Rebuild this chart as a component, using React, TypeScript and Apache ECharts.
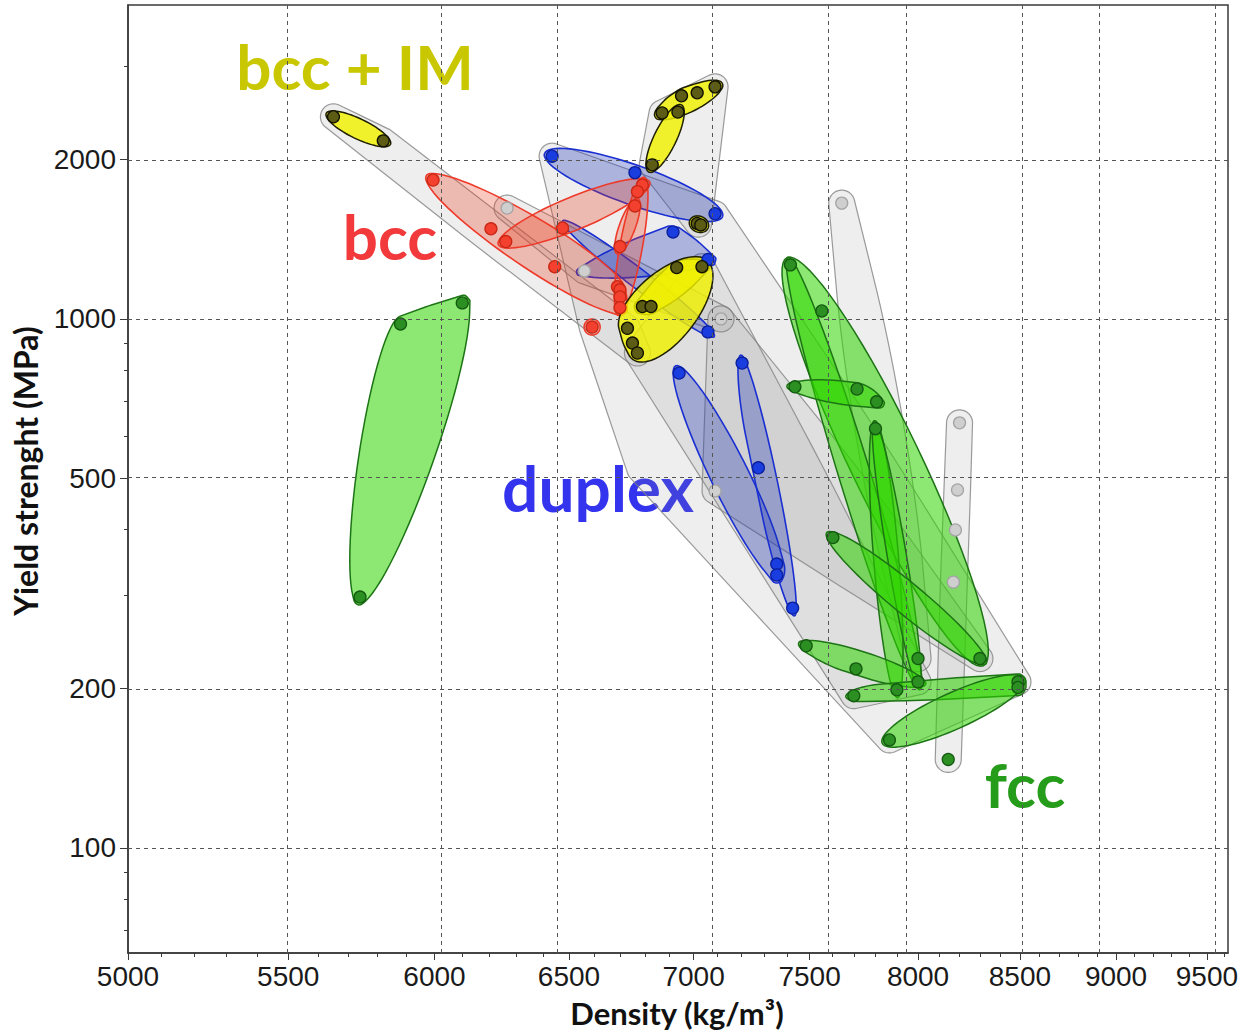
import React, { useEffect, useRef } from "react";
import * as echarts from "echarts";

// ---- axes (density in kg/m3, yield strength in MPa, both logarithmic) ----
const densityRange = [5000, 9620];
const strengthRange = [63.3, 3920];
const densityTicks = [5000, 5500, 6000, 6500, 7000, 7500, 8000, 8500, 9000, 9500];
const densityMinorTicks = [
  5100, 5200, 5300, 5400, 5600, 5700, 5800, 5900, 6100, 6200, 6300, 6400,
  6600, 6700, 6800, 6900, 7100, 7200, 7300, 7400, 7600, 7700, 7800, 7900,
  8100, 8200, 8300, 8400, 8600, 8700, 8800, 8900, 9100, 9200, 9300, 9400, 9600,
];
const strengthTicks = [100, 200, 500, 1000, 2000];
const strengthMinorTicks = [70, 80, 90, 300, 400, 600, 700, 800, 900, 3000];

// ---- alloy records [density, yield strength] ----
const bccImPoints = [
  [5650, 2410], [5820, 2170], [7090, 2745], [7015, 2675], [6950, 2640], [6935, 2460],
  [6870, 2450], [6830, 1955], [7015, 1515], [7030, 1505], [6930, 1250], [7035, 1255],
  [6790, 1055], [6825, 1055], [6730, 960], [6750, 900], [6770, 862],
];
const bccPoints = [
  [5995, 1830], [6205, 1480], [6260, 1400], [6475, 1485], [6445, 1255], [6790, 1790],
  [6770, 1740], [6760, 1635], [6700, 1370], [6690, 1150], [6700, 1135], [6700, 1100],
  [6700, 1050], [6590, 965],
];
const duplexPoints = [
  [6435, 2030], [6760, 1890], [7090, 1580], [6915, 1460], [7060, 1295], [7060, 945],
  [6940, 790], [7205, 825], [7275, 523], [7355, 344], [7355, 328], [7425, 284],
];
const fccPoints = [
  [5740, 298], [5880, 978], [6100, 1072], [7415, 1265], [7435, 744], [7805, 697],
  [7800, 620], [7605, 386], [7485, 241], [7710, 218], [7700, 194], [7900, 199],
  [8000, 228], [8000, 206], [8300, 228], [8490, 206], [8490, 201], [7865, 160], [8145, 147],
];
const fccCoveredPoints = [[7555, 1035], [7715, 737]];
const otherPoints = [[7115, 1000], [7090, 473], [7645, 1655], [8200, 636], [8190, 475], [8180, 399]];
const otherCoveredPoints = [[6265, 1620], [6560, 1232], [8170, 318]];

// ---- property bubbles: each one spans the records it lists ----
const bccImBubbles = [
  [[5650, 2410], [5820, 2170]],
  [[6870, 2450], [6950, 2640], [7015, 2675], [7090, 2745]],
  [[6935, 2460], [6830, 1955]],
  [[7015, 1515], [7030, 1505]],
  [[6930, 1250], [7035, 1255], [6790, 1055], [6825, 1055]],
  [[6730, 960], [6770, 862], [7035, 1255]],
];
const bccBubbles = [
  [[5995, 1830], [6205, 1480], [6445, 1255], [6690, 1150], [6700, 1050]],
  [[6260, 1400], [6475, 1485], [6790, 1790]],
  [[6790, 1790], [6700, 1050]],
  [[6760, 1635], [6700, 1370]],
  [[6590, 965]],
];
const duplexBubbles = [
  [[6435, 2030], [6760, 1890], [7090, 1580]],
  [[6560, 1232], [6915, 1460], [7060, 1295]],
  [[6500, 1500], [7060, 945]],
  [[6940, 790], [7355, 344], [7355, 328]],
  [[7205, 825], [7275, 523], [7425, 284]],
];
const fccBubbles = [
  [[5740, 298], [5880, 978], [6100, 1072]],
  [[7415, 1265], [8300, 228]],
  [[7415, 1265], [8000, 206]],
  [[7435, 744], [7715, 737], [7805, 697]],
  [[7800, 620], [7900, 199]],
  [[7800, 620], [8000, 206]],
  [[7605, 386], [8300, 228]],
  [[7485, 241], [7710, 218], [8000, 206]],
  [[7700, 194], [7900, 199], [8490, 206], [8490, 201]],
  [[7865, 160], [8490, 206]],
];
// family envelopes
const envelopes = [
  [[5650, 2410], [5820, 2170], [6730, 960], [6770, 862]],
  [[6830, 1955], [6870, 2450], [7090, 2745], [7020, 1510]],
  [[6435, 2030], [7090, 1580], [6590, 965], [6780, 520], [7865, 160], [8490, 206]],
  [[6770, 862], [7035, 1255], [7700, 194], [8000, 206]],
  [[7115, 1000], [7090, 473], [7605, 386], [8300, 228]],
  [[7645, 1655], [8000, 228]],
  [[8200, 636], [8190, 475], [8180, 399], [8170, 318], [8145, 147]],
  [[6265, 1620], [6560, 1232], [7115, 1000]],
];

// ---- bubble widths (minor/major ratio of each pairwise ellipse) ----
const bccImWidths = [0.28, 0.32, 0.3, 0.3, 0.25, 0.45];
const bccWidths = [0.17, 0.2, 0.16, 0.27, 0];
const duplexWidths = [0.21, 0.16, 0.1, 0.15, 0.08];
const fccWidths = [0.15, 0.155, 0.07, 0.18, 0.09, 0.07, 0.15, 0.18, 0.09, 0.23];
const envelopeWidths = [0.07, 0.12, 0.06, 0.06, 0.08, 0.1, 0.03, 0.08];

const lg = (p: number[]) => [Math.log10(p[0]), Math.log10(p[1])];

function convexHull(pts: number[][]) {
  const p = pts.slice().sort((a, b) => a[0] - b[0] || a[1] - b[1]);
  const cross = (o: number[], a: number[], b: number[]) =>
    (a[0] - o[0]) * (b[1] - o[1]) - (a[1] - o[1]) * (b[0] - o[0]);
  const lower: number[][] = [];
  for (const q of p) {
    while (lower.length >= 2 && cross(lower[lower.length - 2], lower[lower.length - 1], q) <= 0) lower.pop();
    lower.push(q);
  }
  const upper: number[][] = [];
  for (let i = p.length - 1; i >= 0; i--) {
    const q = p[i];
    while (upper.length >= 2 && cross(upper[upper.length - 2], upper[upper.length - 1], q) <= 0) upper.pop();
    upper.push(q);
  }
  upper.pop();
  lower.pop();
  return lower.concat(upper);
}

// Smooth outline: hull of ellipses drawn on every pair of member points (pixel space);
// rounded caps around each member are added for envelopes and single records
function bubbleOutline(pts: number[][], ratio: number, pad: number, caps: boolean) {
  const samples: number[][] = [];
  const N = 72;
  if (caps || pts.length === 1) {
    for (const p of pts) {
      for (let k = 0; k < N; k++) {
        const t = (k / N) * Math.PI * 2;
        samples.push([p[0] + pad * Math.cos(t), p[1] + pad * Math.sin(t)]);
      }
    }
  }
  for (let i = 0; i < pts.length; i++) {
    for (let j = i + 1; j < pts.length; j++) {
      const [ax, ay] = pts[i];
      const [bx, by] = pts[j];
      const dx = bx - ax;
      const dy = by - ay;
      const len = Math.hypot(dx, dy);
      const ang = Math.atan2(dy, dx);
      const a = len / 2 + pad;
      const b = Math.max(ratio * a, pad);
      const cx = (ax + bx) / 2;
      const cy = (ay + by) / 2;
      const c = Math.cos(ang);
      const s = Math.sin(ang);
      for (let k = 0; k < N; k++) {
        const t = (k / N) * Math.PI * 2;
        const ex = a * Math.cos(t);
        const ey = b * Math.sin(t);
        samples.push([cx + ex * c - ey * s, cy + ex * s + ey * c]);
      }
    }
  }
  return convexHull(samples);
}

function bubbleSeries(
  name: string,
  bubbles: number[][][],
  widths: number[],
  pad: number,
  caps: boolean,
  fill: string,
  stroke: string,
  lineWidth: number
) {
  return {
    name,
    type: "custom",
    coordinateSystem: "cartesian2d",
    silent: true,
    clip: true,
    encode: { x: 0, y: 1 },
    data: bubbles.map((b, i) => [...lg(b[0]), i]),
    renderItem: (_params: any, api: any) => {
      const i = api.value(2);
      const pts = bubbles[i].map((p) => api.coord(lg(p)));
      return {
        type: "polygon",
        shape: { points: bubbleOutline(pts, widths[i], pad, caps) },
        style: { fill, stroke, lineWidth },
      };
    },
  };
}

function pointSeries(name: string, pts: number[][], color: string, border: string) {
  return {
    name,
    type: "scatter",
    silent: true,
    symbolSize: 12,
    data: pts.map(lg),
    itemStyle: { color, borderColor: border, borderWidth: 1.3, opacity: 1 },
  };
}

const tickFont = { fontFamily: "Liberation Sans", fontSize: 28, color: "#1a1a1a" };
const fmt = (v: number) => String(Math.round(Math.pow(10, v)));
const labelStyle = (text: string, size: number, fill: string) => ({
  text,
  font: `bold ${size}px Lato`,
  fill,
  textAlign: "center",
  textVerticalAlign: "middle",
  verticalAlign: "middle",
});

export default function App() {
  const ref = useRef<HTMLDivElement>(null);

  useEffect(() => {
    if (!ref.current) return;
    const chart = echarts.init(ref.current, null, { renderer: "svg" });

    const gridLineSeries = {
      name: "grid",
      type: "scatter",
      silent: true,
      data: [],
      markLine: {
        silent: true,
        symbol: "none",
        label: { show: false },
        lineStyle: { type: [4, 4], color: "#555555", width: 1 },
        data: [
          ...densityTicks.slice(1).map((v) => ({ xAxis: Math.log10(v) })),
          ...strengthTicks.map((v) => ({ yAxis: Math.log10(v) })),
        ],
      },
    };

    const xBase = {
      type: "value",
      min: Math.log10(densityRange[0]),
      max: Math.log10(densityRange[1]),
      position: "bottom",
      splitLine: { show: false },
    };
    const yBase = {
      type: "value",
      min: Math.log10(strengthRange[0]),
      max: Math.log10(strengthRange[1]),
      position: "left",
      splitLine: { show: false },
    };

    chart.setOption({
      animation: false,
      backgroundColor: "#ffffff",
      grid: {
        left: 128,
        right: 16,
        top: 5,
        bottom: 78,
        show: true,
        borderColor: "#3a3a3a",
        borderWidth: 1.5,
        backgroundColor: "transparent",
      },
      xAxis: [
        {
          ...xBase,
          axisLine: { show: true, lineStyle: { color: "#3a3a3a", width: 1.5 } },
          axisTick: {
            show: true,
            length: 7,
            customValues: densityTicks.map(Math.log10),
            lineStyle: { color: "#3a3a3a" },
          },
          axisLabel: {
            ...tickFont,
            margin: 9,
            customValues: densityTicks.map(Math.log10),
            formatter: fmt,
          },
        },
        {
          ...xBase,
          axisLine: { show: false },
          axisTick: {
            show: true,
            length: 4,
            customValues: densityMinorTicks.map(Math.log10),
            lineStyle: { color: "#3a3a3a" },
          },
          axisLabel: { show: false },
        },
      ],
      yAxis: [
        {
          ...yBase,
          axisLine: { show: true, lineStyle: { color: "#3a3a3a", width: 1.5 } },
          axisTick: {
            show: true,
            length: 8,
            customValues: strengthTicks.map(Math.log10),
            lineStyle: { color: "#3a3a3a" },
          },
          axisLabel: {
            ...tickFont,
            margin: 12,
            customValues: strengthTicks.map(Math.log10),
            formatter: fmt,
          },
        },
        {
          ...yBase,
          axisLine: { show: false },
          axisTick: {
            show: true,
            length: 4,
            customValues: strengthMinorTicks.map(Math.log10),
            lineStyle: { color: "#3a3a3a" },
          },
          axisLabel: { show: false },
        },
      ],
      series: [
        bubbleSeries("envelopes", envelopes, envelopeWidths, 13, true, "rgba(140,140,140,0.15)", "rgba(130,130,130,0.8)", 1.2),
        pointSeries("other (covered)", otherCoveredPoints, "#cfcfcf", "#a5a5a5"),
        pointSeries("fcc (covered)", fccCoveredPoints, "#2b8f22", "#145a10"),
        bubbleSeries("fcc bubbles", fccBubbles, fccWidths, 8, false, "rgba(47,213,0,0.55)", "#1d7414", 1.5),
        bubbleSeries("duplex bubbles", duplexBubbles, duplexWidths, 8, false, "rgba(20,45,185,0.3)", "#1a2fd2", 1.6),
        bubbleSeries("bcc bubbles", bccBubbles, bccWidths, 8, false, "rgba(238,55,22,0.28)", "#ee3a2a", 1.6),
        bubbleSeries("bcc + IM bubbles", bccImBubbles, bccImWidths, 8, false, "rgba(240,240,0,0.82)", "#1e1e00", 1.5),
        gridLineSeries,
        pointSeries("other", otherPoints, "#cfcfcf", "#a5a5a5"),
        pointSeries("fcc", fccPoints, "#2b8f22", "#145a10"),
        pointSeries("duplex", duplexPoints, "#1a3de0", "#0b1f9c"),
        pointSeries("bcc", bccPoints, "#f4402e", "#c82814"),
        pointSeries("bcc + IM", bccImPoints, "#5c5c14", "#111100"),
      ],
      graphic: [
        { type: "text", x: 677, y: 1013, style: labelStyle("Density (kg/m³)", 31, "#111") },
        { type: "text", x: 25, y: 471, rotation: Math.PI / 2, style: labelStyle("Yield strenght (MPa)", 32, "#111") },
        { type: "text", x: 355, y: 66, style: labelStyle("bcc + IM", 62, "#c9c800") },
        { type: "text", x: 390, y: 236, style: labelStyle("bcc", 62, "#f23a3c") },
        { type: "text", x: 598, y: 487, style: labelStyle("duplex", 64, "#3434ee") },
        { type: "text", x: 1025, y: 784, style: labelStyle("fcc", 62, "#259c1a") },
      ],
    });

    return () => chart.dispose();
  }, []);

  return (
    <div
      ref={ref}
      style={{ position: "absolute", left: 0, top: 0, width: 1244, height: 1031, background: "#fff" }}
    />
  );
}
